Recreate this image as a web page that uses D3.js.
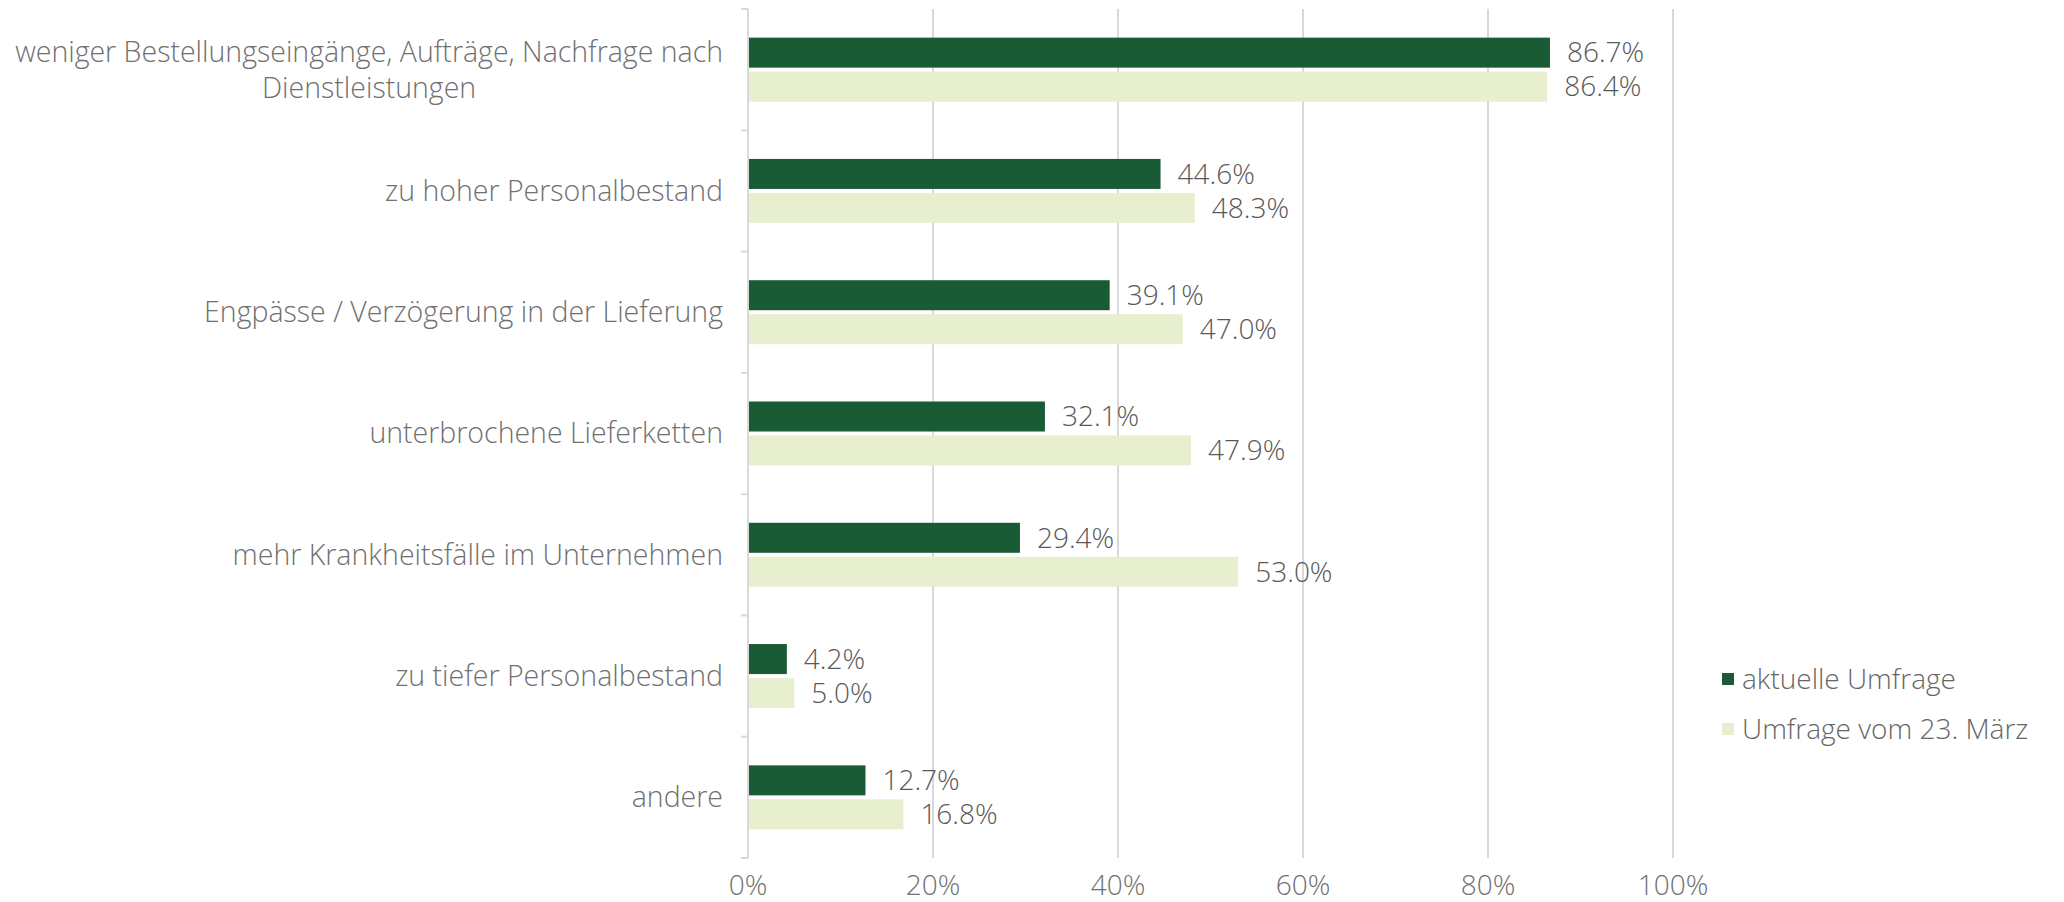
<!DOCTYPE html>
<html>
<head>
<meta charset="utf-8">
<script src="https://cdn.jsdelivr.net/npm/d3@7"></script>
<style>
	body { margin: 0; background: #fff; }
	text { font-family: "Open Sans", "Noto Sans", sans-serif; font-weight: 300; fill: #707070; }
</style>
</head>
<body>
<svg id="svg1"></svg>
<script>
categories = [
	["weniger Bestellungseingänge, Aufträge, Nachfrage nach", "Dienstleistungen"],
	["zu hoher Personalbestand"],
	["Engpässe / Verzögerung in der Lieferung"],
	["unterbrochene Lieferketten"],
	["mehr Krankheitsfälle im Unternehmen"],
	["zu tiefer Personalbestand"],
	["andere"]
];
series_names = ["aktuelle Umfrage", "Umfrage vom 23. März"];
values_aktuell = [86.7, 44.6, 39.1, 32.1, 29.4, 4.2, 12.7];
values_maerz = [86.4, 48.3, 47.0, 47.9, 53.0, 5.0, 16.8];
tick_values = [0, 20, 40, 60, 80, 100];
colors = ["#185b35", "#e8efce"];

settings = {
	width: 2064,
	height: 902,
	left: 748,
	right: 1673,
	top: 9,
	bottom: 858,
	barHeight: 30,
	barGap: 4
}

function draw_chart() {
	var svg = d3.select("#svg1")
		.attr("width", settings.width)
		.attr("height", settings.height)

	var keys = categories.map((d, i) => i);
	var y = d3.scaleBand().domain(keys).range([settings.top, settings.bottom]).padding(0);
	var x = d3.scaleLinear().domain([0, 100]).range([settings.left, settings.right]);

	// gridlines
	svg.append("g")
		.selectAll("line")
		.data(tick_values.slice(1))
		.enter().append("line")
		.attr("x1", d => x(d)).attr("x2", d => x(d))
		.attr("y1", settings.top).attr("y2", settings.bottom)
		.attr("stroke", "#d9d9d9").attr("stroke-width", 2)

	// left axis line + category ticks
	svg.append("line")
		.attr("x1", x(0)).attr("x2", x(0))
		.attr("y1", settings.top).attr("y2", settings.bottom)
		.attr("stroke", "#d9d9d9").attr("stroke-width", 2)

	var boundaries = keys.map(k => y(k)).concat([settings.bottom]);
	svg.append("g")
		.selectAll("line")
		.data(boundaries)
		.enter().append("line")
		.attr("x1", x(0) - 7).attr("x2", x(0))
		.attr("y1", d => d).attr("y2", d => d)
		.attr("stroke", "#d9d9d9").attr("stroke-width", 2)

	// x tick labels
	svg.append("g")
		.selectAll("text")
		.data(tick_values)
		.enter().append("text")
		.attr("x", d => x(d))
		.attr("y", settings.bottom + 37)
		.attr("text-anchor", "middle")
		.style("font-size", "28px")
		.text(d => d + "%")

	// category labels (multi-line labels centered as a block, block right-aligned)
	var lineHeight = 36;
	var labelRight = x(0) - 25;
	var catLabels = svg.append("g")
		.selectAll("text")
		.data(categories)
		.enter().append("text")
		.attr("text-anchor", "middle")
		.style("font-size", "28.5px")
		.attr("transform", (d, i) => "translate(0," + (y(i) + y.bandwidth() / 2) + ")")
	catLabels.selectAll("tspan")
		.data(d => d.map((t, j) => ({ t: t, j: j, n: d.length })))
		.enter().append("tspan")
		.attr("y", d => (d.j - (d.n - 1) / 2) * lineHeight)
		.attr("dy", "0.35em")
		.text(d => d.t)
	catLabels.each(function () {
		var spans = d3.select(this).selectAll("tspan");
		var maxW = 0;
		spans.each(function () { maxW = Math.max(maxW, this.getComputedTextLength()); });
		spans.attr("x", labelRight - maxW / 2);
	});

	// bars
	var all_series = [values_aktuell, values_maerz];
	var groupHeight = settings.barHeight * 2 + settings.barGap;

	all_series.forEach(function (vals, s) {
		var g = svg.append("g").attr("fill", colors[s]);
		var offset = -groupHeight / 2 + s * (settings.barHeight + settings.barGap);
		g.selectAll("rect")
			.data(vals)
			.enter().append("rect")
			.attr("x", x(0) + 1)
			.attr("y", (d, i) => y(i) + y.bandwidth() / 2 + offset)
			.attr("width", d => x(d) - x(0) - 1)
			.attr("height", settings.barHeight)

		g.selectAll("text")
			.data(vals)
			.enter().append("text")
			.attr("x", d => x(d) + 17)
			.attr("y", (d, i) => y(i) + y.bandwidth() / 2 + offset + settings.barHeight / 2)
			.attr("dy", "0.35em")
			.style("font-size", "28px")
			.style("fill", "#595959")
			.text(d => d.toFixed(1) + "%")
	});

	// legend
	var legend = svg.append("g").attr("transform", "translate(1722,679)");
	series_names.forEach(function (name, i) {
		legend.append("rect")
			.attr("x", 0).attr("y", i * 50 - 6)
			.attr("width", 12).attr("height", 12)
			.attr("fill", colors[i])
		legend.append("text")
			.attr("x", 20).attr("y", i * 50)
			.attr("dy", "0.35em")
			.style("font-size", "28px")
			.style("fill", "#666")
			.text(name)
	});
}

draw_chart();
</script>
</body>
</html>
